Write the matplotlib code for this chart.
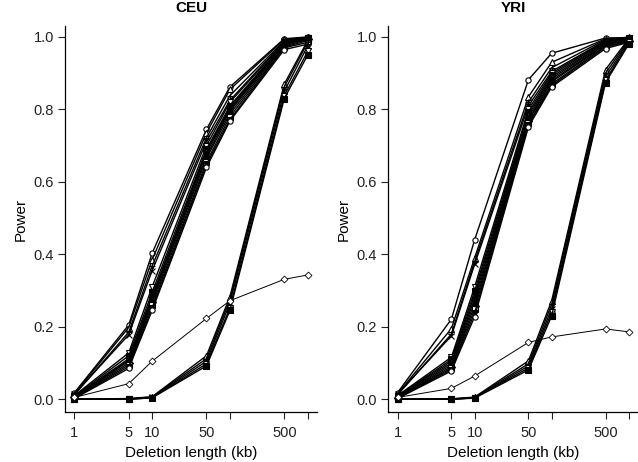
import numpy as np
import matplotlib
matplotlib.use("Agg")
import matplotlib.pyplot as plt

plt.rcParams["font.family"] = ["Liberation Sans", "DejaVu Sans"]

# deletion lengths (kb)
lengths = [1, 5, 10, 50, 100, 500, 1000]
tick_pos = [1, 5, 10, 50, 100, 500, 1000]
tick_labels = ["1", "5", "10", "50", "", "500", ""]

# CEU: power curves per method
ceu_fast = [
    [0.018, 0.205, 0.403, 0.745, 0.862, 0.995, 1.000],
    [0.015, 0.198, 0.385, 0.735, 0.855, 0.993, 0.998],
    [0.012, 0.185, 0.368, 0.722, 0.838, 0.990, 0.999],
    [0.014, 0.178, 0.355, 0.712, 0.825, 0.988, 0.997],
]
ceu_mid = [
    [0.010, 0.128, 0.310, 0.700, 0.820, 0.985, 0.998],
    [0.008, 0.120, 0.295, 0.690, 0.810, 0.983, 0.996],
    [0.006, 0.108, 0.280, 0.685, 0.805, 0.982, 0.992],
    [0.007, 0.112, 0.285, 0.680, 0.800, 0.980, 0.995],
    [0.006, 0.105, 0.275, 0.672, 0.795, 0.978, 0.997],
    [0.005, 0.100, 0.268, 0.665, 0.788, 0.975, 0.993],
    [0.004, 0.095, 0.260, 0.655, 0.780, 0.972, 0.990],
    [0.003, 0.090, 0.252, 0.648, 0.772, 0.970, 0.985],
    [0.002, 0.085, 0.245, 0.640, 0.768, 0.965, 0.980],
]
ceu_slow = [
    [0.000, 0.002, 0.007, 0.120, 0.283, 0.870, 0.990],
    [0.000, 0.001, 0.006, 0.112, 0.275, 0.862, 0.985],
    [0.000, 0.001, 0.005, 0.105, 0.265, 0.850, 0.975],
    [0.000, 0.000, 0.004, 0.098, 0.252, 0.838, 0.960],
    [0.000, 0.000, 0.004, 0.092, 0.245, 0.830, 0.950],
]
ceu_ref = [0.005, 0.043, 0.105, 0.223, 0.272, 0.331, 0.343]

# YRI
yri_fast = [
    [0.018, 0.221, 0.440, 0.882, 0.955, 0.997, 0.998],
    [0.015, 0.195, 0.390, 0.835, 0.930, 0.995, 0.999],
    [0.012, 0.180, 0.380, 0.820, 0.915, 0.993, 0.997],
    [0.014, 0.175, 0.372, 0.810, 0.905, 0.990, 0.996],
]
yri_mid = [
    [0.010, 0.116, 0.310, 0.800, 0.900, 0.990, 0.998],
    [0.008, 0.110, 0.298, 0.792, 0.895, 0.988, 0.996],
    [0.007, 0.105, 0.288, 0.785, 0.890, 0.985, 0.995],
    [0.006, 0.100, 0.278, 0.778, 0.885, 0.983, 0.993],
    [0.005, 0.095, 0.268, 0.772, 0.880, 0.980, 0.992],
    [0.004, 0.090, 0.258, 0.768, 0.876, 0.978, 0.990],
    [0.003, 0.086, 0.248, 0.762, 0.870, 0.975, 0.988],
    [0.003, 0.082, 0.238, 0.758, 0.866, 0.972, 0.987],
    [0.002, 0.078, 0.228, 0.752, 0.862, 0.968, 0.985],
]
yri_slow = [
    [0.000, 0.001, 0.006, 0.106, 0.272, 0.910, 0.995],
    [0.000, 0.001, 0.005, 0.098, 0.262, 0.900, 0.992],
    [0.000, 0.000, 0.004, 0.092, 0.250, 0.890, 0.988],
    [0.000, 0.000, 0.004, 0.086, 0.240, 0.880, 0.985],
    [0.000, 0.000, 0.003, 0.081, 0.230, 0.874, 0.980],
]
yri_ref = [0.005, 0.030, 0.064, 0.157, 0.172, 0.194, 0.186]

# R-style plotting symbols: (marker, filled)
symbols = [("o", False), ("^", False), ("+", False), ("x", False),
           ("v", False), ("s", True), ("*", False), ("o", True),
           ("^", True), ("D", True), ("s", False), ("v", True)]


def draw_panel(ax, title, fast, mid, slow, ref):
    k = 0
    for group in (fast, mid, slow):
        for vals in group:
            m, filled = symbols[k % len(symbols)]
            k += 1
            ax.plot(lengths, vals, color="black", lw=1.0, marker=m,
                    markersize=3.8, markeredgewidth=0.8,
                    markerfacecolor="black" if filled else "white",
                    markeredgecolor="black", zorder=2)
    ax.plot(lengths, ref, color="black", lw=0.7, marker="D", markersize=3.5,
            markeredgewidth=0.6, markerfacecolor="white",
            markeredgecolor="black", zorder=3)

    ax.set_xscale("log")
    lo, hi = np.log10(1), np.log10(1000)
    pad = 0.04 * (hi - lo)
    ax.set_xlim(10 ** (lo - pad), 10 ** (hi + pad))
    ax.set_ylim(-0.036, 1.03)
    ax.set_xticks(tick_pos)
    ax.set_xticklabels(tick_labels)
    ax.xaxis.set_minor_locator(matplotlib.ticker.NullLocator())
    ax.set_yticks([0, 0.2, 0.4, 0.6, 0.8, 1.0])
    ax.set_yticklabels(["0.0", "0.2", "0.4", "0.6", "0.8", "1.0"])
    ax.tick_params(direction="out", length=5, width=0.8, labelsize=10.5,
                   pad=3, colors="#222222")
    ax.tick_params(axis="x", pad=5)
    for s in ("top", "right"):
        ax.spines[s].set_visible(False)
    for s in ("left", "bottom"):
        ax.spines[s].set_linewidth(0.9)
    ax.set_title(title, fontsize=11, fontweight="bold", pad=10)
    ax.set_xlabel("Deletion length (kb)", fontsize=11, labelpad=4)
    ax.set_ylabel("Power", fontsize=11, labelpad=4)


fig = plt.figure(figsize=(6.38, 4.62), dpi=100)
ax1 = fig.add_axes([0.1019, 0.1076, 0.3950, 0.836])
ax2 = fig.add_axes([0.6086, 0.1076, 0.3914, 0.836])
draw_panel(ax1, "CEU", ceu_fast, ceu_mid, ceu_slow, ceu_ref)
draw_panel(ax2, "YRI", yri_fast, yri_mid, yri_slow, yri_ref)
fig.savefig("out.png", dpi=100)
